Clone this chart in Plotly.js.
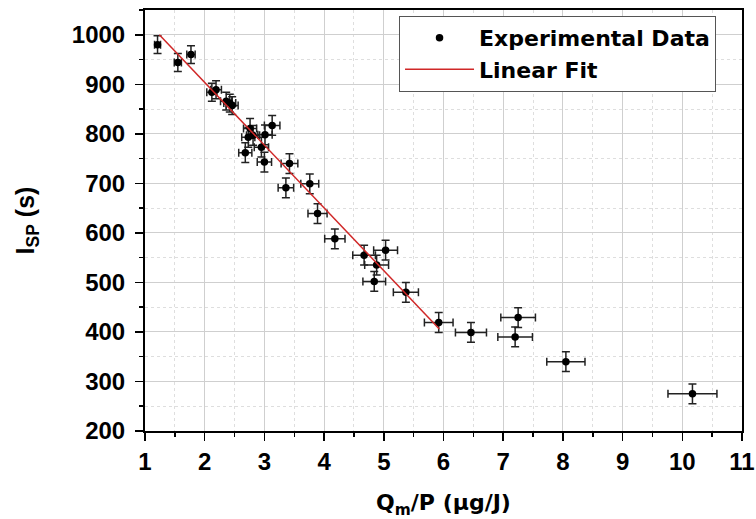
<!DOCTYPE html>
<html>
<head>
<meta charset="utf-8">
<script src="https://cdn.plot.ly/plotly-3.0.1.min.js"></script>
<style>html,body{margin:0;padding:0;background:#fff;}#chart{width:756px;height:519px;}</style>
</head>
<body>
<div id="chart"></div>
<script>
var qmOverP = [1.21, 1.55, 1.77, 2.12, 2.19, 2.36, 2.42, 2.46, 2.68, 2.73, 2.76, 2.81, 2.95, 3.00, 3.01, 3.13, 3.36, 3.42, 3.76, 3.89, 4.18, 4.67, 4.84, 4.88, 5.03, 5.37, 5.92, 6.46, 7.20, 7.25, 8.05, 10.17];
var isp     = [980, 944, 960, 884, 889, 866, 862, 857, 762, 793, 811, 797, 773, 743, 798, 817, 691, 740, 699, 639, 588, 555, 502, 535, 565, 480, 419, 399, 390, 429, 340, 275];
var qmErr   = [0.05, 0.06, 0.07, 0.085, 0.09, 0.095, 0.1, 0.1, 0.11, 0.11, 0.11, 0.11, 0.12, 0.12, 0.12, 0.13, 0.13, 0.14, 0.15, 0.16, 0.17, 0.19, 0.19, 0.2, 0.2, 0.21, 0.24, 0.26, 0.29, 0.29, 0.32, 0.41];
var ispErr  = [18, 18, 18, 18, 18, 18, 18, 18, 20, 20, 20, 20, 20, 20, 20, 20, 20, 20, 20, 20, 20, 20, 20, 20, 20, 20, 20, 20, 20, 20, 20, 20];
// Linear fit endpoints
var fitX = [1.24, 5.93];
var fitY = [1000, 406];

var tickFont = "'Liberation Sans', Arial, sans-serif";
var wideFont = "'DejaVu Sans', sans-serif";

var traces = [
  {
    x: qmOverP, y: isp, type: 'scatter', mode: 'markers', name: 'Experimental Data',
    marker: {color: '#000', size: 7.5},
    error_x: {type: 'data', array: qmErr, visible: true, color: '#222', thickness: 1.5, width: 4},
    error_y: {type: 'data', array: ispErr, visible: true, color: '#222', thickness: 1.5, width: 4}
  },
  {
    x: fitX, y: fitY, type: 'scatter', mode: 'lines', name: 'Linear Fit',
    line: {color: '#d02828', width: 1.5}
  }
];

var layout = {
  width: 756, height: 519,
  margin: {l: 145, r: 14, t: 10, b: 88},
  paper_bgcolor: '#fff', plot_bgcolor: '#fff',
  font: {family: tickFont, color: '#000'},
  showlegend: true,
  legend: {
    x: 0.4255, y: 0.986, xanchor: 'left', yanchor: 'top',
    bgcolor: '#fff', bordercolor: '#555', borderwidth: 1,
    font: {family: wideFont, size: 22, color: '#000', weight: 'bold'},
    itemwidth: 69,
    tracegroupgap: 0
  },
  xaxis: {
    range: [1, 11], dtick: 1, tick0: 1,
    showline: true, linecolor: '#000', linewidth: 2, mirror: true,
    ticks: 'outside', ticklen: 8, tickwidth: 1.5, tickcolor: '#000',
    showgrid: true, gridcolor: '#cfcfcf', gridwidth: 1,
    zeroline: false,
    tickfont: {family: tickFont, size: 24, weight: 'bold'},
    minor: {dtick: 0.5, ticks: 'outside', ticklen: 4, tickcolor: '#000', showgrid: true, gridcolor: '#dedede', griddash: 'dot'},
    title: {text: 'Q<sub>m</sub>/P (\u03bcg/J)', font: {family: wideFont, size: 22, weight: 'bold'}, standoff: 24}
  },
  yaxis: {
    range: [200, 1050], dtick: 100, tick0: 200,
    showline: true, linecolor: '#000', linewidth: 2, mirror: true,
    ticks: 'outside', ticklen: 8, tickwidth: 1.5, tickcolor: '#000',
    ticklabelstandoff: 5,
    showgrid: true, gridcolor: '#cfcfcf', gridwidth: 1,
    zeroline: false,
    tickfont: {family: tickFont, size: 24, weight: 'bold'},
    minor: {dtick: 50, ticks: 'outside', ticklen: 4, tickcolor: '#000', showgrid: true, gridcolor: '#dedede', griddash: 'dot'},
    title: {text: 'I<sub>SP</sub> (s)', font: {family: tickFont, size: 25, weight: 'bold'}, standoff: 30}
  }
};

Plotly.newPlot('chart', traces, layout, {displayModeBar: false, staticPlot: true});
</script>
</body>
</html>
